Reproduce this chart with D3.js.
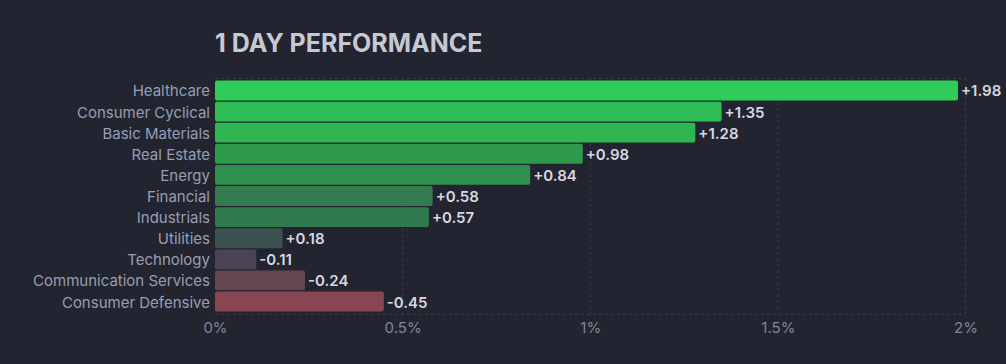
<!DOCTYPE html>
<meta charset="utf-8">
<script src="https://d3js.org/d3.v7.min.js"></script>
<style>
body { margin: 0; background: #22252f; }
text { font-family: Inter, "Noto Sans", sans-serif; }
.title { font-size: 25px; font-weight: 700; fill: #c6c8d6; }
.sector { font-size: 15px; fill: #989db3; }
.value { font-size: 15px; font-weight: 600; fill: #d6d8e2; }
.axis text { font-size: 15px; fill: #80859b; }
.axis path, .axis line { display: none; }
.grid line { stroke: #373b49; stroke-dasharray: 3px 3px; }
</style>
<body>
<div id="chart"></div>
</body>
<script>

const sectors = ["Healthcare", "Consumer Cyclical", "Basic Materials", "Real Estate", "Energy",
  "Financial", "Industrials", "Utilities", "Technology", "Communication Services", "Consumer Defensive"];
const changes = [1.98, 1.35, 1.28, 0.98, 0.84, 0.58, 0.57, 0.18, -0.11, -0.24, -0.45];
const tickValues = [0, 0.5, 1, 1.5, 2];

const barColors = ["#30cc5a", "#2fbe56", "#2fb653", "#2e9a4b", "#2f8f4f", "#317b4f",
  "#317a4e", "#3b524e", "#4c4456", "#65464f", "#8a4552"];

const width = 1006, height = 364;
const margin = {top: 78, right: 40, bottom: 50, left: 215};

const svg = d3.select("#chart").append("svg")
  .attr("width", width)
  .attr("height", height);

const x = d3.scaleLinear().domain([0, 2]).range([margin.left, 965.5]);
const y = d3.scaleBand().domain(sectors).range([margin.top, height - margin.bottom]).paddingInner(0.06).paddingOuter(0.12);
const color = d3.scaleOrdinal().domain(sectors).range(barColors);

const data = sectors.map((s, i) => ({sector: s, change: changes[i]}));

svg.append("text")
  .attr("class", "title")
  .attr("x", margin.left)
  .attr("y", 52)
  .text("1 DAY PERFORMANCE");

// grid
const grid = svg.append("g").attr("class", "grid");
grid.selectAll(".v")
  .data(tickValues.slice(1))
  .enter().append("line")
  .attr("x1", d => x(d)).attr("x2", d => x(d))
  .attr("y1", margin.top).attr("y2", height - margin.bottom);
grid.selectAll(".h")
  .data([margin.top, height - margin.bottom])
  .enter().append("line")
  .attr("x1", x(0)).attr("x2", x(2))
  .attr("y1", d => d + 0.5).attr("y2", d => d + 0.5);

// bars
svg.selectAll(".bar")
  .data(data)
  .enter().append("rect")
  .attr("class", "bar")
  .attr("x", x(0))
  .attr("y", d => y(d.sector))
  .attr("width", d => x(Math.abs(d.change)) - x(0))
  .attr("height", y.bandwidth())
  .attr("rx", 2)
  .attr("fill", d => color(d.sector));

svg.selectAll(".sector")
  .data(data)
  .enter().append("text")
  .attr("class", "sector")
  .attr("x", margin.left - 5)
  .attr("y", d => y(d.sector) + y.bandwidth() / 2)
  .attr("dy", "0.4em")
  .attr("text-anchor", "end")
  .text(d => d.sector);

svg.selectAll(".value")
  .data(data)
  .enter().append("text")
  .attr("class", "value")
  .attr("x", d => x(Math.abs(d.change)) + 3)
  .attr("y", d => y(d.sector) + y.bandwidth() / 2)
  .attr("dy", "0.4em")
  .text(d => (d.change > 0 ? "+" : "") + d.change.toFixed(2));

svg.append("g")
  .attr("class", "axis")
  .attr("transform", "translate(0," + (height - margin.bottom) + ")")
  .call(d3.axisBottom(x).tickValues(tickValues).tickSize(0).tickPadding(8).tickFormat(d => d + "%"));

</script>
